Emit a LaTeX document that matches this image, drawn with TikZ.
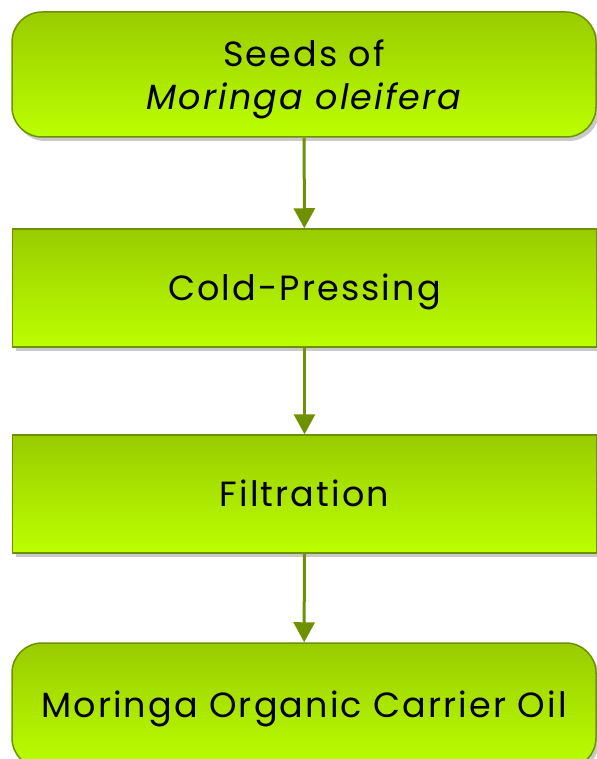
\documentclass[tikz,border=0pt]{standalone}
\usepackage{fontspec}
\setmainfont{Poppins}[LetterSpace=6]
\usepackage{tikz}
\usetikzlibrary{arrows.meta,shadows}

\definecolor{leafTop}{RGB}{153,204,0}
\definecolor{leafBot}{RGB}{187,255,0}
\definecolor{leafLine}{RGB}{110,145,0}

\tikzset{
  leafbox/.style={draw=leafLine, line width=1.5pt, top color=leafTop, bottom color=leafBot,
    minimum width=584pt, inner sep=0pt, align=center,
    font=\fontsize{35}{43}\selectfont,
    drop shadow={shadow xshift=3pt, shadow yshift=-4pt, opacity=0.3, fill=black!70}},
  stepbox/.style={leafbox, minimum height=118pt, text height=24.5pt, text depth=0pt},
  endbox/.style={leafbox, rounded corners=30pt, minimum height=125pt},
  flow/.style={leafLine, line width=3pt, -{Triangle[length=20pt,width=21pt]}}
}

\begin{document}
\begin{tikzpicture}[x=1pt, y=-1pt]
    \useasboundingbox (0,0) rectangle (596,759);
    \node[endbox] (seeds) at (304,74.5) {\rule{0pt}{37pt}Seeds of\\\itshape Moringa oleifera};
    \node[stepbox] (press) at (304.5,288) {Cold-Pressing};
    \node[stepbox] (filter) at (304.5,494) {Filtration};
    \node[endbox, text height=24.5pt, text depth=0pt] (oil) at (304,705.5) {Moringa Organic Carrier Oil};
    \draw[flow] (seeds) -- (press);
    \draw[flow] (press) -- (filter);
    \draw[flow] (filter) -- (oil);
\end{tikzpicture}
\end{document}
